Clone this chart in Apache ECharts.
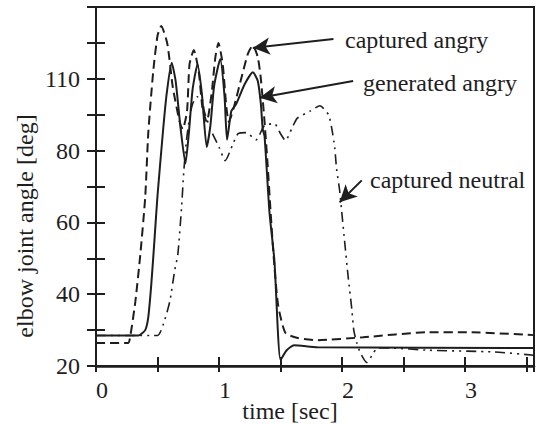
<!DOCTYPE html>
<html>
<head>
<meta charset="utf-8">
<script src="https://cdn.jsdelivr.net/npm/echarts@6/dist/echarts.min.js"></script>
<style>
html, body { margin: 0; padding: 0; background: #fff; }
#charts { width: 537px; height: 424px; }
</style>
</head>
<body>
<div id="charts"></div>
<script>
// tick labels (the printed "110" sits on the 100 grid line)
const yTickValues = [20, 40, 60, 80, 100];
const yTickLabels = ["20", "40", "60", "80", "110"];
const xTickValues = [0, 1, 2, 3];
const xTickLabels = ["0", "1", "2", "3"];

// captured angry (dashed)
const capturedAngryTime = [0, 0.26, 0.28, 0.32, 0.36, 0.40, 0.425, 0.465, 0.50, 0.53, 0.58, 0.625, 0.68, 0.705, 0.74, 0.76, 0.795, 0.835, 0.865, 0.90, 0.94, 0.97, 0.995, 1.03, 1.06, 1.08, 1.12, 1.18, 1.235, 1.275, 1.315, 1.34, 1.37, 1.395, 1.42, 1.445, 1.48, 1.54, 1.64, 1.80, 2.17, 2.70, 3.02, 3.56];
const capturedAngry = [26.4, 26.4, 28.6, 38, 51, 67, 85, 102, 112, 114.7, 109.7, 97.5, 88, 86, 91, 104, 108, 102, 92, 88, 96, 106, 110, 104, 92, 88, 92, 100, 107, 109.3, 106, 100, 88, 76, 62.5, 50, 37, 29.2, 27.8, 27.2, 28, 29.4, 29.4, 28.6];

// generated angry (solid)
const generatedAngryTime = [0, 0.345, 0.40, 0.425, 0.45, 0.475, 0.50, 0.545, 0.575, 0.615, 0.647, 0.687, 0.727, 0.755, 0.785, 0.825, 0.86, 0.90, 0.93, 0.96, 1.01, 1.045, 1.065, 1.10, 1.14, 1.21, 1.275, 1.315, 1.34, 1.355, 1.37, 1.41, 1.45, 1.50, 1.55, 1.61, 1.80, 3.56];
const generatedAngry = [28.5, 28.5, 30, 33.6, 43, 55, 67.5, 85.6, 96, 104.5, 99.4, 86.4, 76.4, 85, 97, 104, 96, 81, 87, 98, 105.5, 95, 83, 91, 93, 98.6, 101.8, 99.4, 93, 86, 84, 62.8, 49.4, 21.7, 24.4, 25.8, 25.2, 25];

// captured neutral (dash-dot-dot)
const capturedNeutralTime = [0, 0.50, 0.545, 0.60, 0.64, 0.665, 0.695, 0.714, 0.735, 0.76, 0.785, 0.825, 0.86, 0.88, 0.93, 1.00, 1.05, 1.115, 1.155, 1.22, 1.30, 1.37, 1.45, 1.50, 1.54, 1.595, 1.635, 1.74, 1.82, 1.89, 1.915, 1.94, 1.955, 1.98, 2.00, 2.02, 2.05, 2.08, 2.095, 2.12, 2.15, 2.20, 2.255, 2.285, 2.40, 2.70, 3.24, 3.56];
const capturedNeutral = [28.5, 28.5, 31.4, 38, 46.7, 51, 64, 74.4, 82.8, 89, 93, 95, 94.7, 91, 86, 81, 77.2, 82, 84.7, 85, 83, 87, 87.5, 84.7, 82.8, 86.4, 89, 91, 92.5, 90, 86.4, 81, 75, 69, 62, 55, 44.7, 35.6, 30, 26.4, 23.6, 21, 23.6, 25, 25, 24.4, 23.9, 23];

// annotation arrows [from, to] in data units
const arrowCapturedAngry = [[1.93, 111.1], [1.275, 108.6]];
const arrowGeneratedAngry = [[2.09, 99.4], [1.33, 94.7]];
const arrowCapturedNeutral = [[2.16, 71.7], [1.98, 65.6]];

let ink = "#1e1e1e";
let font = "Liberation Serif";

function zip(t, v) {
  return t.map((x, i) => [x, v[i]]);
}

function arrow(pts) {
  return {
    silent: true,
    symbol: ["none", "arrow"],
    symbolSize: [13, 17],
    lineStyle: { type: "solid", color: ink, width: 2 },
    label: { show: false },
    data: [[{ coord: pts[0] }, { coord: pts[1] }]],
  };
}

let chartDom = document.getElementById("charts");
let myChart = echarts.init(chartDom, null, { renderer: "svg" });

let yBase = {
  type: "value",
  position: "left",
  min: 20,
  max: 120,
  interval: 10,
  splitLine: { show: false },
};
let xBase = {
  type: "value",
  position: "bottom",
  min: 0,
  max: 3.56,
  interval: 0.5,
  splitLine: { show: false },
};

let option = {
  animation: false,
  backgroundColor: "#fff",
  textStyle: { fontFamily: font, color: ink },
  grid: {
    left: 96,
    top: 7,
    right: -3,
    bottom: 58,
    show: true,
    borderColor: ink,
    borderWidth: 2,
  },
  xAxis: [
    Object.assign({}, xBase, {
      axisLine: { show: true, lineStyle: { color: ink, width: 2.5 } },
      axisTick: { show: true, inside: false, length: 6, lineStyle: { color: ink, width: 2 } },
      axisLabel: {
        show: true,
        margin: 12,
        padding: [0, 0, 0, 12],
        fontFamily: font,
        fontSize: 24,
        color: ink,
        formatter: function (v) {
          let i = xTickValues.indexOf(v);
          return i >= 0 ? xTickLabels[i] : "";
        },
      },
    }),
    Object.assign({}, xBase, {
      axisLine: { show: false },
      axisTick: { show: true, inside: true, length: 9, lineStyle: { color: ink, width: 2 } },
      axisLabel: { show: false },
    }),
  ],
  yAxis: [
    Object.assign({}, yBase, {
      axisLine: { show: true, lineStyle: { color: ink, width: 2 } },
      axisTick: { show: true, inside: false, length: 9, lineStyle: { color: ink, width: 2 } },
      axisLabel: {
        show: true,
        margin: 16,
        padding: [10, 0, 0, 0],
        fontFamily: font,
        fontSize: 24,
        color: ink,
        formatter: function (v) {
          let i = yTickValues.indexOf(v);
          return i >= 0 ? yTickLabels[i] : "";
        },
      },
    }),
    Object.assign({}, yBase, {
      axisLine: { show: false },
      axisTick: { show: true, inside: true, length: 9, lineStyle: { color: ink, width: 2 } },
      axisLabel: { show: false },
    }),
  ],
  graphic: [
    {
      type: "text",
      x: 25,
      y: 226,
      rotation: Math.PI / 2,
      style: { text: "elbow joint angle [deg]", font: "24px " + font, fill: ink, align: "center", verticalAlign: "middle" },
    },
    {
      type: "text",
      x: 290,
      y: 411,
      style: { text: "time [sec]", font: "24px " + font, fill: ink, align: "center", verticalAlign: "middle" },
    },
    {
      type: "text",
      x: 345,
      y: 40,
      style: { text: "captured angry", font: "24px " + font, fill: ink, align: "left", verticalAlign: "middle" },
    },
    {
      type: "text",
      x: 363,
      y: 83,
      style: { text: "generated angry", font: "24px " + font, fill: ink, align: "left", verticalAlign: "middle" },
    },
    {
      type: "text",
      x: 370,
      y: 180,
      style: { text: "captured neutral", font: "24px " + font, fill: ink, align: "left", verticalAlign: "middle" },
    },
  ],
  series: [
    {
      name: "captured angry",
      type: "line",
      showSymbol: false,
      symbol: "none",
      smooth: 0.2,
      data: zip(capturedAngryTime, capturedAngry),
      lineStyle: { color: ink, width: 2, type: [9, 5] },
      markLine: arrow(arrowCapturedAngry),
    },
    {
      name: "generated angry",
      type: "line",
      showSymbol: false,
      symbol: "none",
      smooth: 0.2,
      data: zip(generatedAngryTime, generatedAngry),
      lineStyle: { color: ink, width: 2, type: "solid" },
      markLine: arrow(arrowGeneratedAngry),
    },
    {
      name: "captured neutral",
      type: "line",
      showSymbol: false,
      symbol: "none",
      smooth: 0.2,
      data: zip(capturedNeutralTime, capturedNeutral),
      lineStyle: { color: ink, width: 1.6, type: [10, 5, 2, 5, 2, 5] },
      markLine: arrow(arrowCapturedNeutral),
    },
  ],
};

option && myChart.setOption(option);
</script>
</body>
</html>
